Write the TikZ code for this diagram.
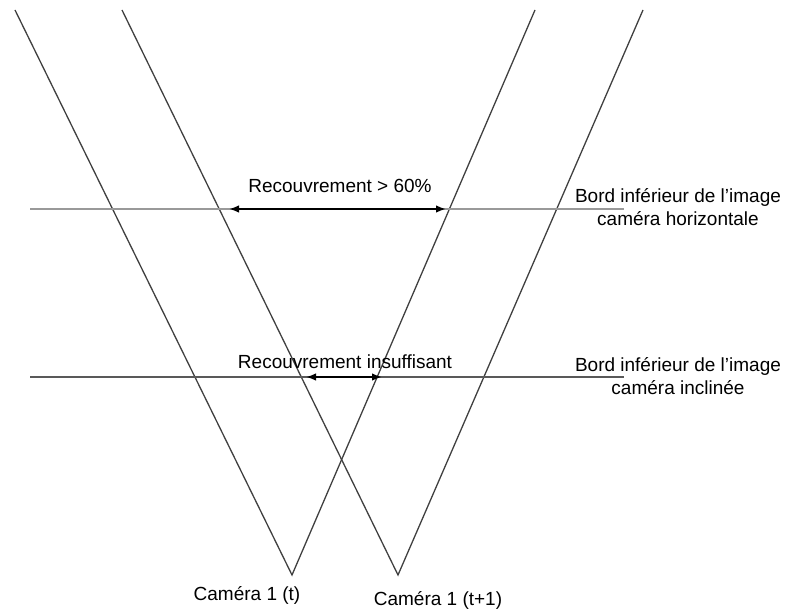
\documentclass[tikz,border=0pt]{standalone}
\usepackage{fontspec}
\setmainfont{Liberation Sans}
\usetikzlibrary{arrows.meta}

\begin{document}
\begin{tikzpicture}[x=1pt, y=-1pt,
	ray/.style={color=black!75, line width=1.3pt},
	edge/.style={line width=1.2pt},
	overlap/.style={color=black, line width=1.6pt, {Latex[length=10pt,width=7.5pt]}-{Latex[length=10pt,width=7.5pt]}},
	txt/.style={font=\fontsize{19}{23}\selectfont, align=center, inner sep=0pt}]
	\useasboundingbox (0,0) rectangle (787,615);
	% camera footprints at t and t+1
	\coordinate (camT) at (292,575);
	\coordinate (camTT) at (398,575);
	\draw [ray] (15,10) -- (camT) -- (535,10);
	\draw [ray] (122,10) -- (camTT) -- (643,10);
	% lower image edges
	\coordinate (hzL) at (30,209);
	\coordinate (hzR) at (624,209);
	\coordinate (inL) at (30,377);
	\coordinate (inR) at (624,377);
	\draw [edge, color=black!40] (hzL) -- (hzR);
	\draw [edge, color=black!65] (inL) -- (inR);
	% overlaps
	\coordinate (ovA) at (229,209);
	\coordinate (ovB) at (446,209);
	\coordinate (ovC) at (306,377);
	\coordinate (ovD) at (382,377);
	\draw [overlap] (ovA) -- (ovB);
	\draw [overlap] (ovC) -- (ovD);
	% labels
	\node [txt, anchor=base] (ovHz) at (340,193) {Recouvrement > 60\%};
	\node [txt, anchor=base] (ovIn) at (345,368) {Recouvrement insuffisant};
	\node [txt] (edgeHz) at (678,207) {Bord inférieur de l’image\\caméra horizontale};
	\node [txt] (edgeIn) at (678,376) {Bord inférieur de l’image\\caméra inclinée};
	\node [txt, anchor=base] (lblT) at (247,600) {Caméra 1 (t)};
	\node [txt, anchor=base] (lblTT) at (438,605) {Caméra 1 (t+1)};
\end{tikzpicture}
\end{document}
